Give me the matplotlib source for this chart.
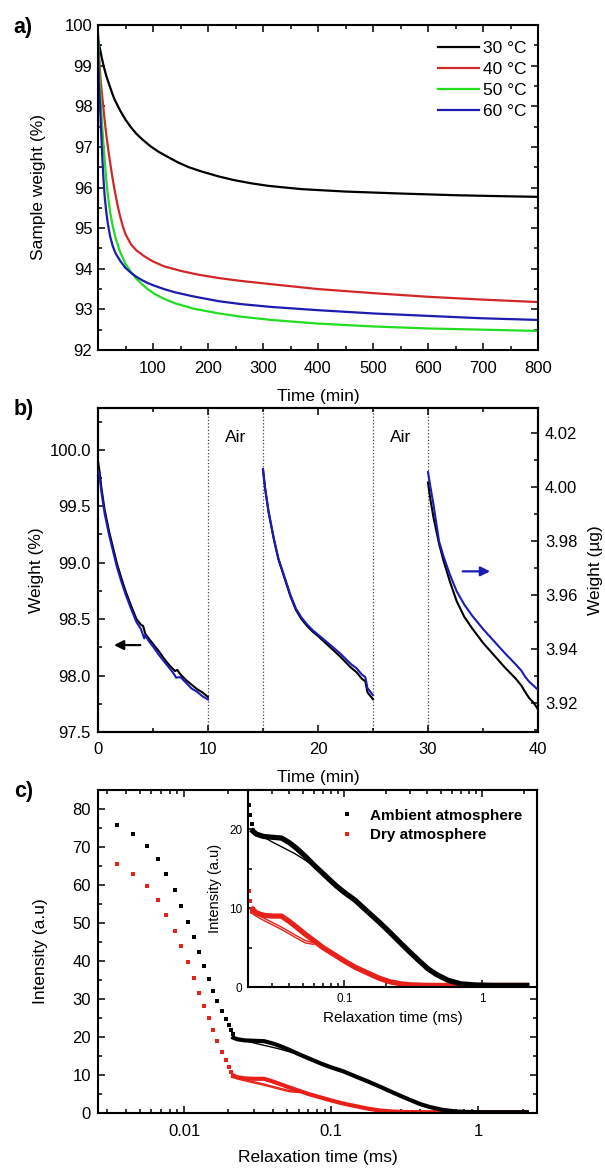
import matplotlib
matplotlib.use('Agg')
import matplotlib.pyplot as plt
import numpy as np
from matplotlib.ticker import MultipleLocator, LogLocator, NullFormatter, FormatStrFormatter

plt.rcParams['font.family'] = ['Liberation Sans', 'DejaVu Sans']

# ---------------- Panel a data ----------------
t_30 = [0, 3, 6, 10, 15, 20, 25, 30, 40, 50, 60, 70, 80, 95, 110, 126, 145, 165, 187, 220, 248, 280,
        310, 370, 450, 554, 650, 720, 800]
w_30 = [99.65, 99.45, 99.25, 99.0, 98.75, 98.55, 98.35, 98.17, 97.9, 97.67, 97.48, 97.32, 97.19,
        97.02, 96.88, 96.76, 96.62, 96.5, 96.4, 96.27, 96.18, 96.1, 96.04, 95.96, 95.9, 95.85, 95.81,
        95.79, 95.77]
t_40 = [0, 2, 5, 8, 11, 15, 20, 25, 30, 35, 40, 45, 50, 60, 70, 85, 100, 120, 150, 180, 220, 260,
        315, 400, 500, 600, 700, 800]
w_40 = [99.7, 99.2, 98.6, 98.2, 97.8, 97.3, 96.8, 96.35, 95.95, 95.6, 95.3, 95.05, 94.85, 94.6,
        94.45, 94.3, 94.18, 94.06, 93.95, 93.86, 93.77, 93.7, 93.62, 93.5, 93.4, 93.31, 93.24, 93.18]
t_50 = [0, 1, 2, 3, 4, 6, 8, 10, 12, 15, 18, 22, 26, 32, 40, 50, 60, 70, 80, 90, 103, 120, 140, 173,
        220, 260, 315, 400, 500, 600, 700, 800]
w_50 = [99.8, 99.4, 99.0, 98.7, 98.4, 97.9, 97.45, 97.05, 96.7, 96.2, 95.8, 95.4, 95.1, 94.75,
        94.42, 94.12, 93.92, 93.75, 93.62, 93.5, 93.38, 93.26, 93.15, 93.02, 92.9, 92.82, 92.74,
        92.65, 92.58, 92.53, 92.5, 92.47]
t_60 = [0, 0.5, 1, 2, 3, 4, 6, 8, 10, 12, 15, 18, 22, 27, 32, 40, 50, 60, 70, 80, 90, 103, 120, 140,
        173, 220, 260, 315, 400, 500, 600, 700, 800]
w_60 = [99.75, 99.4, 99.0, 98.5, 98.2, 97.9, 97.3, 96.7, 96.2, 95.8, 95.4, 95.1, 94.8, 94.55, 94.38,
        94.2, 94.02, 93.9, 93.8, 93.72, 93.65, 93.58, 93.5, 93.42, 93.32, 93.2, 93.13, 93.06, 92.98,
        92.9, 92.84, 92.78, 92.74]
labels_a = ['30 °C', '40 °C', '50 °C', '60 °C']
colors_a = ['#000000', '#d02828', '#22dd22', '#1c1cb0']

# ---------------- Panel b data ----------------
tb1 = [0, 0.15, 0.3, 0.6, 1.0, 1.4, 1.7, 2.1, 2.5, 3.0, 3.5, 3.9, 4.1, 4.3, 4.6, 5.0, 5.5, 6.0, 6.5,
       7.0, 7.2, 7.5, 8.0, 8.5, 9.0, 9.5, 10.0]
wb1_pct = [99.9, 99.8, 99.67, 99.47, 99.28, 99.12, 99.0, 98.87, 98.75, 98.62, 98.5, 98.45, 98.44,
           98.37, 98.33, 98.28, 98.22, 98.15, 98.09, 98.04, 98.05, 98.01, 97.96, 97.92, 97.88, 97.85, 97.81]
tb1u = [0, 0.15, 0.3, 0.6, 1.0, 1.4, 1.7, 2.1, 2.5, 3.0, 3.5, 3.9, 4.2, 4.3, 4.6, 5.0, 5.5, 6.0, 6.5,
        6.9, 7.1, 7.5, 8.0, 8.5, 9.0, 9.5, 10.0]
wb1_ug = [4.0060, 4.0039, 3.9985, 3.9902, 3.9824, 3.9757, 3.9707, 3.9653, 3.9604, 3.9550, 3.9500,
          3.9475, 3.9440, 3.9452, 3.9431, 3.9410, 3.9381, 3.9355, 3.9330, 3.9309, 3.9295, 3.9297,
          3.9276, 3.9255, 3.9243, 3.9226, 3.9214]
tb2 = [15, 15.2, 15.5, 16.0, 16.4, 17.0, 17.5, 18.0, 18.5, 19.0, 19.5, 20.0, 21.0, 22.0, 23.0, 23.5,
       24.0, 24.3, 24.5, 25.0]
wb2_pct = [99.82, 99.65, 99.45, 99.2, 99.03, 98.85, 98.70, 98.58, 98.50, 98.44, 98.39, 98.35, 98.26,
           98.17, 98.07, 98.03, 97.97, 97.95, 97.85, 97.79]
wb2_ug = [4.0066, 3.9994, 3.9911, 3.9807, 3.9736, 3.9662, 3.9600, 3.9550, 3.9517, 3.9492, 3.9471,
          3.9454, 3.9420, 3.9385, 3.9345, 3.9330, 3.9306, 3.9297, 3.9256, 3.9230]
tb3 = [30, 30.2, 30.5, 31.0, 31.4, 32.0, 32.6, 33.3, 34.0, 35.0, 36.0, 37.0, 38.0, 38.5, 38.8, 39.2,
       39.6, 40.0]
wb3_pct = [99.71, 99.57, 99.4, 99.17, 99.02, 98.83, 98.66, 98.52, 98.42, 98.29, 98.18, 98.07, 97.97,
           97.91, 97.86, 97.80, 97.76, 97.70]
wb3_ug = [4.0055, 4.0005, 3.9935, 3.980, 3.9745, 3.9675, 3.9615, 3.9565, 3.9525, 3.9475, 3.943,
          3.9385, 3.9343, 3.932, 3.930, 3.928, 3.9265, 3.925]
air_lines = [10, 15, 25, 30]
air_text_x = [12.5, 27.5]

# ---------------- Panel c data ----------------
tc_pts = [0.0035, 0.0045, 0.0056, 0.0066, 0.0075, 0.0087, 0.0096, 0.0106, 0.0116, 0.0127, 0.0137,
          0.0147, 0.0157, 0.0168, 0.0180, 0.0192, 0.0202, 0.0208, 0.0214]
amb_pts = [75.8, 73.3, 70.3, 66.8, 62.9, 58.7, 54.5, 50.3, 46.3, 42.3, 38.8, 35.3, 32.1, 29.4, 26.9,
           24.8, 23.1, 21.8, 20.7]
dry_pts = [65.4, 62.9, 59.7, 56.1, 52.1, 48.0, 43.9, 39.7, 35.6, 31.7, 28.2, 24.9, 21.8, 19.0, 16.0,
           13.9, 12.2, 10.9, 9.7]

tc_dense = [0.021, 0.023, 0.026, 0.03, 0.035, 0.04, 0.045, 0.052, 0.06, 0.07, 0.0865, 0.1, 0.12,
            0.151, 0.18, 0.215, 0.262, 0.3, 0.35, 0.405, 0.465, 0.566, 0.7, 0.9, 1.2, 1.6, 2.2]
amb_dense = [20.0, 19.4, 19.1, 19.0, 18.9, 18.3, 17.6, 16.6, 15.5, 14.4, 12.9, 12.0, 11.0, 9.4, 8.2,
             6.9, 5.4, 4.4, 3.3, 2.3, 1.6, 0.85, 0.4, 0.25, 0.2, 0.2, 0.2]
dry_dense = [10.1, 9.4, 9.1, 9.0, 9.0, 8.3, 7.6, 6.7, 5.9, 5.0, 4.0, 3.3, 2.5, 1.7, 1.1, 0.65, 0.38,
             0.28, 0.24, 0.2, 0.2, 0.2, 0.2, 0.2, 0.2, 0.2, 0.2]
tc_thin = [0.021, 0.025, 0.03, 0.035, 0.044, 0.052, 0.06]
amb_thin = [19.8, 19.2, 18.4, 17.8, 16.9, 16.1, 15.4]
dry_thin1 = [9.7, 8.9, 8.2, 7.6, 6.6, 5.9, 5.6]
dry_thin2 = [9.4, 8.6, 7.9, 7.3, 6.3, 5.6, 5.4]
labels_c = ['Ambient atmosphere', 'Dry atmosphere']
RED = '#e8201a'

W, H = 605, 1170
fig = plt.figure(figsize=(W / 100, H / 100), dpi=100)


def rect(l, r, t, b):
    return [l / W, 1 - b / H, (r - l) / W, (b - t) / H]


def ticks(ax, top=True, right=True, labelsize=12, xpad=8, ypad=4):
    ax.tick_params(which='both', direction='in', top=top, right=right, width=1.1)
    ax.tick_params(which='major', length=5)
    ax.tick_params(which='minor', length=3)
    ax.tick_params(axis='x', pad=xpad, labelsize=labelsize)
    ax.tick_params(axis='y', pad=ypad, labelsize=labelsize)
    for s in ax.spines.values():
        s.set_linewidth(1.5)


# ---------- Panel a ----------
ax_a = fig.add_axes(rect(98, 538, 25, 350))
for t, w, lab, c in zip([t_30, t_40, t_50, t_60], [w_30, w_40, w_50, w_60], labels_a, colors_a):
    ax_a.plot(t, w, color=c, lw=1.6, label=lab)
ax_a.set_xlim(0, 800)
ax_a.set_ylim(92, 100)
ax_a.set_xticks([100, 200, 300, 400, 500, 600, 700, 800])
ax_a.xaxis.set_minor_locator(MultipleLocator(50))
ax_a.yaxis.set_major_locator(MultipleLocator(1))
ax_a.yaxis.set_minor_locator(MultipleLocator(0.5))
ticks(ax_a)
ax_a.set_xlabel('Time (min)', fontsize=12.5, va='center')
ax_a.xaxis.set_label_coords(0.5, -0.142)
ax_a.set_ylabel('Sample weight (%)', fontsize=12.5, va='center')
ax_a.yaxis.set_label_coords(-0.136, 0.5)
ax_a.legend(loc='upper right', bbox_to_anchor=(0.975, 0.952), frameon=False, fontsize=12.5,
            handlelength=2.35, handletextpad=0.25, labelspacing=0.34, borderpad=0, borderaxespad=0)

# ---------- Panel b ----------
ax_b = fig.add_axes(rect(98, 538, 408, 732))
ax_b2 = ax_b.twinx()
for tt, ww in zip([tb1, tb2, tb3], [wb1_pct, wb2_pct, wb3_pct]):
    ax_b.plot(tt, ww, color='black', lw=1.5, zorder=3)
for tt, ww in zip([tb1u, tb2, tb3], [wb1_ug, wb2_ug, wb3_ug]):
    ax_b2.plot(tt, ww, color='#1c1cb4', lw=1.5, zorder=3)
for xv in air_lines:
    ax_b.axvline(xv, color='#444444', lw=0.9, ls=':', zorder=1)
ax_b.set_xlim(0, 40)
ax_b.set_ylim(97.5, 100.37)
ax_b2.set_ylim(3.9094, 4.0292)
for xv in air_text_x:
    ax_b.text(xv, 100.106, 'Air', ha='center', va='center', fontsize=12.5)
ax_b.xaxis.set_major_locator(MultipleLocator(10))
ax_b.xaxis.set_minor_locator(MultipleLocator(5))
ax_b.yaxis.set_major_locator(MultipleLocator(0.5))
ax_b.yaxis.set_minor_locator(MultipleLocator(0.25))
ax_b.yaxis.set_major_formatter(FormatStrFormatter('%.1f'))
ax_b2.yaxis.set_major_locator(MultipleLocator(0.02))
ax_b2.yaxis.set_minor_locator(MultipleLocator(0.01))
ax_b2.yaxis.set_major_formatter(FormatStrFormatter('%.2f'))
ticks(ax_b, top=True, right=False, xpad=7, ypad=5)
ticks(ax_b2, top=False, right=True, xpad=7, ypad=5)
ax_b2.tick_params(which='both', left=False)
ax_b.set_xlabel('Time (min)', fontsize=12.5, va='center')
ax_b.xaxis.set_label_coords(0.5, -0.139)
ax_b.set_ylabel('Weight (%)', fontsize=12.5, va='center')
ax_b.yaxis.set_label_coords(-0.139, 0.5)
ax_b2.set_ylabel('Weight (µg)', fontsize=12.5, va='center')
ax_b2.yaxis.set_label_coords(1.13, 0.5)
ax_b.annotate('', xy=(1.2, 98.27), xytext=(4.1, 98.27),
              arrowprops=dict(arrowstyle='-|>', color='black', lw=1.6, mutation_scale=14))
ax_b2.annotate('', xy=(35.9, 3.9688), xytext=(32.9, 3.9688),
               arrowprops=dict(arrowstyle='-|>', color='#1c1cb4', lw=1.6, mutation_scale=14))

# ---------- Panel c ----------
ax_c = fig.add_axes(rect(98, 537, 790, 1113))


def draw_c(ax, thick, ms):
    ax.plot(tc_pts, amb_pts, 's', color='black', ms=ms, mew=0)
    ax.plot(tc_pts, dry_pts, 's', color=RED, ms=ms, mew=0)
    ax.plot(tc_thin, amb_thin, color='black', lw=1.0)
    ax.plot(tc_thin, dry_thin1, color=RED, lw=1.0)
    ax.plot(tc_thin, dry_thin2, color=RED, lw=1.0)
    ax.plot(tc_dense, dry_dense, color=RED, lw=thick, solid_capstyle='butt', solid_joinstyle='round')
    ax.plot(tc_dense, amb_dense, color='black', lw=thick, solid_capstyle='butt', solid_joinstyle='round')


draw_c(ax_c, 3.0, 3.4)
ax_c.set_xscale('log')
ax_c.set_xlim(0.0026, 2.5)
ax_c.set_ylim(0, 85)
ax_c.set_xticks([0.01, 0.1, 1])
ax_c.set_xticklabels(['0.01', '0.1', '1'])
ax_c.xaxis.set_minor_locator(LogLocator(base=10, subs=np.arange(2, 10)))
ax_c.xaxis.set_minor_formatter(NullFormatter())
ax_c.yaxis.set_major_locator(MultipleLocator(10))
ax_c.yaxis.set_minor_locator(MultipleLocator(5))
ticks(ax_c, xpad=8, ypad=5)
ax_c.set_xlabel('Relaxation time (ms)', fontsize=12.5, va='center')
ax_c.xaxis.set_label_coords(0.5, -0.139)
ax_c.set_ylabel('Intensity (a.u)', fontsize=12.5, va='center')
ax_c.yaxis.set_label_coords(-0.132, 0.5)

# ---------- Inset ----------
ax_i = fig.add_axes(rect(248, 537, 790, 987))
ax_i.set_facecolor('white')
draw_c(ax_i, 3.8, 3.2)
ax_i.set_xscale('log')
ax_i.set_xlim(0.02, 2.5)
ax_i.set_ylim(0, 25)
ax_i.set_xticks([0.1, 1])
ax_i.set_xticklabels(['0.1', '1'])
ax_i.xaxis.set_minor_locator(LogLocator(base=10, subs=np.arange(2, 10)))
ax_i.xaxis.set_minor_formatter(NullFormatter())
ax_i.yaxis.set_major_locator(MultipleLocator(10))
ax_i.yaxis.set_minor_locator(MultipleLocator(5))
ticks(ax_i, top=True, right=False, labelsize=8.5, xpad=4, ypad=4)
ax_i.set_xlabel('Relaxation time (ms)', fontsize=11, va='center')
ax_i.xaxis.set_label_coords(0.5, -0.157)
ax_i.set_ylabel('Intensity (a.u)', fontsize=10.5, va='center')
ax_i.yaxis.set_label_coords(-0.114, 0.5)
h1, = ax_i.plot([], [], 's', color='black', ms=3.2, mew=0)
h2, = ax_i.plot([], [], 's', color=RED, ms=3.2, mew=0)
ax_i.legend([h1, h2], labels_c, loc='upper left', bbox_to_anchor=(0.315, 0.905), frameon=False,
            prop=dict(weight='bold', size=11), handlelength=1.0, handletextpad=1.0,
            labelspacing=0.35, borderpad=0, borderaxespad=0, numpoints=1)

# panel letters
for lab, (x, y) in zip(['a)', 'b)', 'c)'], [(23, 27), (24, 409), (24, 792)]):
    fig.text(x / W, 1 - y / H, lab, ha='center', va='center', fontsize=15.5, weight='bold')

fig.savefig('out.png', dpi=100)
